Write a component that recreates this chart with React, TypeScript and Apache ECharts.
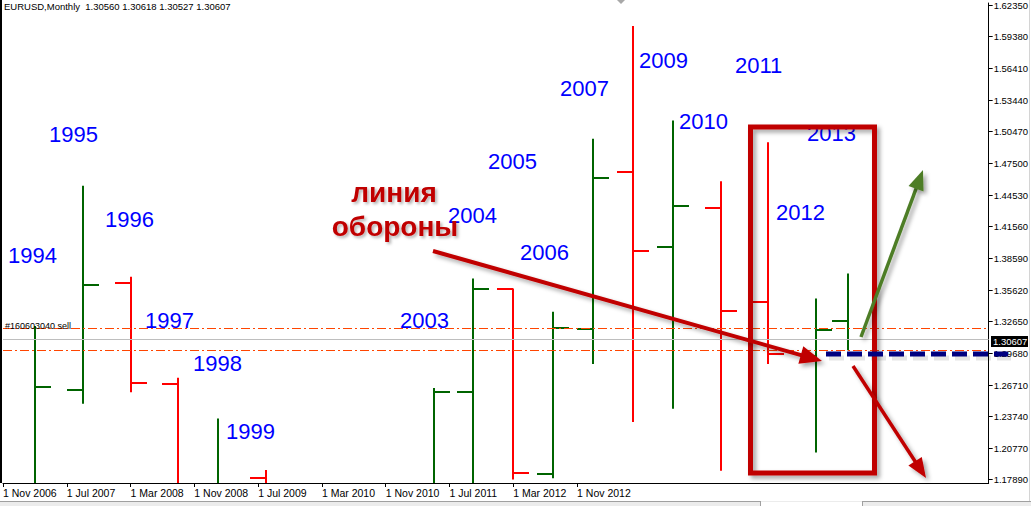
import React, { useEffect, useRef } from "react";
import * as echarts from "echarts";

const TITLE = "EURUSD,Monthly  1.30560 1.30618 1.30527 1.30607";
const ORDER_LABEL = "#160603040 sell";
const PRICE_TAG = "1.30607";

// time axis: month index counted from 1 Nov 2006
const xLabels = [
  "1 Nov 2006", "1 Jul 2007", "1 Mar 2008", "1 Nov 2008", "1 Jul 2009",
  "1 Mar 2010", "1 Nov 2010", "1 Jul 2011", "1 Mar 2012", "1 Nov 2012",
];
const xTickValues = xLabels.map((_, i) => i * 8);

const yTicks = [
  1.6235, 1.5938, 1.5641, 1.5344, 1.5047, 1.475, 1.4453, 1.4156, 1.3859,
  1.3562, 1.3265, 1.2968, 1.2671, 1.2374, 1.2077, 1.1789,
];

// OHLC bars
const barMonths = [4, 10, 16, 22, 27, 33, 54, 59, 64, 69, 74, 79, 84, 90, 96, 102, 106];
const barOpen = [1.15, 1.2628, 1.3626, 1.2684, 1.14, 1.1799, 1.15, 1.2603, 1.357, 1.1836, 1.3201, 1.4669, 1.397, 1.4334, 1.3448, 1.2945, 1.3271];
const barHigh = [1.3225, 1.4539, 1.3686, 1.274, 1.2358, 1.1873, 1.2644, 1.3669, 1.3576, 1.3358, 1.498, 1.6037, 1.5151, 1.4583, 1.4949, 1.3483, 1.3716];
const barLow = [1.14, 1.2495, 1.2603, 1.15, 1.13, 1.15, 1.14, 1.16, 1.1785, 1.1796, 1.2868, 1.2324, 1.2448, 1.1867, 1.2868, 1.2038, 1.2998];
const barClose: (number | null)[] = [1.2656, 1.3607, 1.2694, 1.16, 1.16, 1.16, 1.2603, 1.3567, 1.1848, 1.3203, 1.4616, 1.393, 1.4346, 1.3365, 1.2961, 1.3188, null];

// horizontal levels
const orderLevels = [1.3206, 1.302];
const priceLevel = 1.30607;

// year annotations
const yearTexts = ["1994", "1995", "1996", "1997", "1998", "1999", "2003", "2004", "2005", "2006", "2007", "2009", "2010", "2011", "2012", "2013"];
const yearPos: [number, number][] = [
  [8, 255], [49, 134], [105, 219], [145, 320], [193, 363], [226, 431],
  [400, 320], [448, 215], [488, 161], [520, 252], [560, 88], [639, 60],
  [679, 121], [735, 65], [776, 212], [807, 133],
];
const noteLines = ["линия", "обороны"];

const Y_MIN = 1.6235 - 481 / 1073;
const Y_MAX = 1.6235 + 2 / 1073;
const X_MAX = 989 / 8;

const GREEN = "#006400";
const RED = "#FF0000";
const DARK_RED = "#C00000";
const SHADOW = { shadowBlur: 4, shadowColor: "rgba(0,0,0,0.35)", shadowOffsetX: 3, shadowOffsetY: 3 };
const FONT = "Liberation Sans";

function arrow(x1: number, y1: number, x2: number, y2: number, color: string, w: number, headLen: number, headW: number) {
  const dx = x2 - x1, dy = y2 - y1;
  const L = Math.hypot(dx, dy);
  const ux = dx / L, uy = dy / L;
  const bx = x2 - ux * headLen, by = y2 - uy * headLen;
  const px = -uy, py = ux;
  return [
    {
      type: "line", z: 100,
      shape: { x1, y1, x2: bx + ux * 2, y2: by + uy * 2 },
      style: { stroke: color, lineWidth: w, ...SHADOW },
    },
    {
      type: "polygon", z: 100,
      shape: { points: [[x2, y2], [bx + px * headW, by + py * headW], [bx - px * headW, by - py * headW]] },
      style: { fill: color, ...SHADOW },
    },
  ];
}

export default function App() {
  const ref = useRef<HTMLDivElement>(null);

  useEffect(() => {
    document.body.style.margin = "0";
    document.body.style.background = "#ffffff";
    if (!ref.current) return;
    const chart = echarts.init(ref.current, undefined, { renderer: "svg" });

    const data = barMonths.map((m, i) => {
      const c = barClose[i];
      return c == null ? [m, barOpen[i], barHigh[i], barLow[i]] : [m, barOpen[i], barHigh[i], barLow[i], c];
    });

    const graphics: any[] = [];
    // left border
    graphics.push({ type: "line", z: 50, shape: { x1: 1, y1: 0, x2: 1, y2: 483 }, style: { stroke: "#000", lineWidth: 2 } });
    // right edge line
    graphics.push({ type: "line", z: 50, shape: { x1: 1029.5, y1: 0, x2: 1029.5, y2: 501 }, style: { stroke: "#D4D4D4", lineWidth: 1 } });
    // bottom tab strip
    graphics.push({ type: "rect", z: 50, shape: { x: 0, y: 501, width: 1031, height: 5 }, style: { fill: "#ECECEC" } });
    graphics.push({ type: "line", z: 51, shape: { x1: 0, y1: 501.5, x2: 760, y2: 501.5 }, style: { stroke: "#A0A0A0", lineWidth: 1 } });
    graphics.push({ type: "line", z: 51, shape: { x1: 862, y1: 501.5, x2: 1031, y2: 501.5 }, style: { stroke: "#A0A0A0", lineWidth: 1 } });
    graphics.push({ type: "rect", z: 51, shape: { x: 761, y: 502, width: 101, height: 4 }, style: { fill: "#FFFFFF" } });
    graphics.push({ type: "line", z: 51, shape: { x1: 760.5, y1: 501, x2: 760.5, y2: 506 }, style: { stroke: "#A0A0A0", lineWidth: 1 } });
    graphics.push({ type: "line", z: 51, shape: { x1: 862.5, y1: 501, x2: 862.5, y2: 506 }, style: { stroke: "#A0A0A0", lineWidth: 1 } });
    // small marker at top
    graphics.push({ type: "polygon", z: 51, shape: { points: [[617, 0], [625, 0], [621, 4]] }, style: { fill: "#A8A8A8" } });

    // header
    graphics.push({ type: "text", z: 60, x: 4, y: 6, style: { text: TITLE, fontSize: 9.5, fontFamily: FONT, fill: "#000", verticalAlign: "middle", align: "left" } });
    graphics.push({ type: "text", z: 60, x: 5, y: 326, style: { text: ORDER_LABEL, fontSize: 9, fontFamily: FONT, fill: "#000", verticalAlign: "middle", align: "left" } });

    // year labels
    yearTexts.forEach((t, i) => {
      graphics.push({
        type: "text", z: 90, x: yearPos[i][0], y: yearPos[i][1],
        style: { text: t, fontSize: 22, fontFamily: FONT, fill: "#0000FF", verticalAlign: "middle", align: "left" },
      });
    });

    // russian note
    const noteStyle = { fontSize: 28, fontWeight: "bold", fontFamily: FONT, fill: DARK_RED, align: "center", verticalAlign: "middle", textShadowBlur: 3, textShadowColor: "rgba(0,0,0,0.3)", textShadowOffsetX: 2, textShadowOffsetY: 2 };
    graphics.push({ type: "text", z: 95, x: 394, y: 192, style: { text: noteLines[0], ...noteStyle } });
    graphics.push({ type: "text", z: 95, x: 395, y: 226, style: { text: noteLines[1], ...noteStyle } });

    // box
    graphics.push({ type: "rect", z: 100, shape: { x: 750.5, y: 127, width: 124, height: 346 }, style: { fill: "none", stroke: DARK_RED, lineWidth: 5, ...SHADOW } });

    // navy dashed support (shadow drawn as a soft offset copy)
    graphics.push({ type: "line", z: 99, shape: { x1: 829, y1: 358, x2: 1011, y2: 358 }, style: { stroke: "rgba(0,0,0,0.1)", lineWidth: 5, lineDash: [15, 6] } });
    graphics.push({ type: "line", z: 100, shape: { x1: 826, y1: 354, x2: 1008, y2: 354 }, style: { stroke: "#000080", lineWidth: 5, lineDash: [15, 6] } });

    // arrows
    graphics.push(...arrow(433, 251, 822, 361, DARK_RED, 4, 22, 9));
    graphics.push(...arrow(861, 337, 923, 170, "#4E7D27", 3.5, 20, 8));
    graphics.push(...arrow(853, 366, 926, 478, DARK_RED, 3.5, 20, 8));

    // price tag
    graphics.push({ type: "rect", z: 110, shape: { x: 991, y: 336, width: 37, height: 11 }, style: { fill: "#000" } });
    graphics.push({ type: "text", z: 111, x: 993, y: 341.5, style: { text: PRICE_TAG, fontSize: 9.5, fontFamily: FONT, fill: "#FFF", verticalAlign: "middle", align: "left" } });

    const option: any = {
      animation: false,
      backgroundColor: "#ffffff",
      grid: { left: 1, right: 41, top: 0, bottom: 23, containLabel: false },
      xAxis: {
        type: "value",
        min: 0,
        max: X_MAX,
        interval: 8,
        axisLine: { show: true, onZero: false, lineStyle: { color: "#000", width: 1 } },
        axisTick: { show: true, length: 4, customValues: xTickValues, lineStyle: { color: "#000" } },
        axisLabel: {
          show: true,
          customValues: xTickValues,
          align: "left",
          margin: 4,
          fontSize: 10.5,
          fontFamily: FONT,
          color: "#000",
          formatter: (v: number) => xLabels[Math.round(v / 8)] ?? "",
        },
        splitLine: { show: false },
      },
      yAxis: {
        type: "value",
        position: "right",
        min: Y_MIN,
        max: Y_MAX,
        axisLine: { show: true, onZero: false, lineStyle: { color: "#000", width: 1 } },
        axisTick: { show: true, inside: false, length: 4, customValues: yTicks, lineStyle: { color: "#000" } },
        axisLabel: {
          show: true,
          customValues: yTicks,
          margin: 5,
          fontSize: 9.5,
          fontFamily: FONT,
          color: "#000",
          formatter: (v: number) => v.toFixed(5),
        },
        splitLine: { show: false },
      },
      series: [
        {
          type: "line",
          data: [],
          silent: true,
          markLine: {
            silent: true,
            symbol: ["none", "none"],
            label: { show: false },
            data: [
              ...orderLevels.map((v) => ({ yAxis: v, lineStyle: { color: "#FF4500", width: 1, type: [9, 3, 2, 3] } })),
              { yAxis: priceLevel, lineStyle: { color: "#BEBEBE", width: 1, type: "solid" } },
            ],
          },
        },
        {
          type: "custom",
          clip: true,
          encode: { x: 0, y: [1, 2, 3, 4] },
          data,
          renderItem: (params: any, api: any) => {
            const m = api.value(0);
            const o = api.value(1);
            const h = api.value(2);
            const l = api.value(3);
            const c = api.value(4);
            const cs = params.coordSys;
            const top = cs.y;
            const bottom = cs.y + cs.height;
            const clampY = (y: number) => Math.max(top, Math.min(bottom, y));
            const p = api.coord([m, h]);
            const x = Math.round(p[0]);
            const yH = clampY(p[1]);
            const yL = clampY(api.coord([m, l])[1]);
            const hasC = typeof c === "number" && isFinite(c);
            const refV = hasC ? c : h;
            const color = refV >= o ? GREEN : RED;
            const style = { stroke: color, lineWidth: 2 };
            const children: any[] = [
              { type: "line", shape: { x1: x, y1: yH, x2: x, y2: yL }, style },
            ];
            const yO = Math.round(api.coord([m, o])[1]);
            if (yO >= top && yO <= bottom) {
              children.push({ type: "line", shape: { x1: x - 16, y1: yO, x2: x, y2: yO }, style });
            }
            if (hasC) {
              const yC = Math.round(api.coord([m, c])[1]);
              if (yC >= top && yC <= bottom) {
                children.push({ type: "line", shape: { x1: x, y1: yC, x2: x + 16, y2: yC }, style });
              }
            }
            return { type: "group", children };
          },
        },
      ],
      graphic: graphics,
    };

    chart.setOption(option);
    return () => chart.dispose();
  }, []);

  return <div ref={ref} style={{ width: 1031, height: 506 }} />;
}
